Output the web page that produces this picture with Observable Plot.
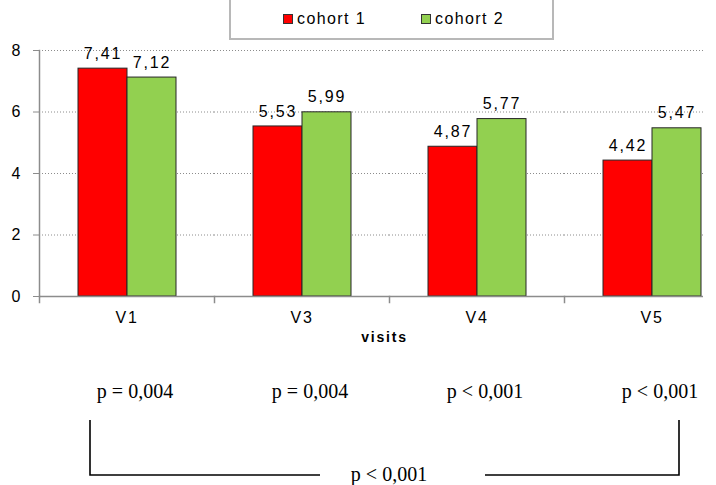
<!DOCTYPE html>
<html>
<head>
<meta charset="utf-8">
<script src="https://cdn.jsdelivr.net/npm/d3@7"></script>
<script src="https://cdn.jsdelivr.net/npm/@observablehq/plot@0.6"></script>
<style>
  body { margin: 0; background: #fff; }
  #wrap { position: relative; width: 716px; height: 485px; overflow: hidden; font-family: "Liberation Sans", Arial, sans-serif; }
  #legend { position: absolute; left: 229px; top: -2px; width: 321px; height: 40px; border: 2px solid #b8b8b8; border-top: none; }
  .item { position: absolute; top: 12px; font-size: 16px; letter-spacing: 1.4px; color: #000; line-height: 18px; }
  .sw { display: inline-block; width: 8px; height: 8px; border: 1px solid #333; margin-right: 4px; vertical-align: 0px; }
  #plot { position: absolute; left: 0; top: 0; width: 703px; height: 485px; overflow: hidden; }
  #plot svg { max-width: none !important; width: 716px !important; height: 485px !important; }
  #ann { position: absolute; left: 0; top: 0; }
  #plot g[aria-description="values"] text, #plot g[aria-description="visit labels"] text { letter-spacing: 1.8px; }
  #plot g[aria-description="visits title"] text { letter-spacing: 1.8px; }
</style>
</head>
<body>
<div id="wrap">
  <div id="plot"></div>
  <div id="legend"></div>
  <svg id="ann" width="716" height="485"></svg>
</div>
<script>
// ---- data ----
const visits = ["V1", "V3", "V4", "V5"];
const cohorts = ["cohort 1", "cohort 2"];
const cohort1 = [7.41, 5.53, 4.87, 4.42];
const cohort2 = [7.12, 5.99, 5.77, 5.47];
const pValues = ["p = 0,004", "p = 0,004", "p < 0,001", "p < 0,001"];
const overallP = "p < 0,001";
const yTicks = [0, 2, 4, 6, 8];
const colors = ["#ff0000", "#92d050"];

const data = visits.flatMap((v, i) => [
  {visit: v, cohort: cohorts[0], value: cohort1[i]},
  {visit: v, cohort: cohorts[1], value: cohort2[i]}
]);
const pData = visits.map((v, i) => ({visit: v, p: pValues[i]}));
const fmt = d => d.toFixed(2).replace(".", ",");

const chart = Plot.plot({
  width: 716,
  height: 485,
  marginTop: 50,
  marginBottom: 189,
  marginLeft: 38,
  marginRight: 14,
  style: {fontFamily: "'Liberation Sans', Arial, sans-serif", fontSize: "16px", color: "#000", background: "transparent", overflow: "visible"},
  fx: {domain: visits, range: [38, 740], padding: 0, axis: null, label: null},
  x: {domain: cohorts, paddingInner: 0, paddingOuter: 0.755, axis: null},
  y: {domain: [0, 8], axis: null},
  color: {domain: cohorts, range: colors},
  marks: [
    Plot.ruleY(yTicks.filter(d => d > 0), {stroke: "#8c8c8c", strokeWidth: 1, strokeDasharray: "1,2"}),
    Plot.barY(data, {fx: "visit", x: "cohort", y: "value", fill: "cohort", stroke: "#262626", strokeWidth: 1}),
    Plot.ruleY([0], {stroke: "#8c8c8c", strokeWidth: 1.5}),
    Plot.frame({anchor: "left", facet: "super", stroke: "#8c8c8c", strokeWidth: 1.5}),
    Plot.frame({anchor: "left", stroke: "#8c8c8c", strokeWidth: 1.5, insetTop: 246, insetBottom: -6}),
    Plot.axisY(yTicks, {anchor: "left", tickSize: 6, tickPadding: 13, stroke: "#8c8c8c", fill: "#000", label: null, tickFormat: d => String(d), fontSize: 16}),
    Plot.text(data, {ariaDescription: "values", fx: "visit", x: "cohort", y: "value", text: d => fmt(d.value), dy: -15, fill: "#000", fontSize: 16}),
    Plot.text(visits, {ariaDescription: "visit labels", fx: d => d, text: d => d, frameAnchor: "bottom", dy: 26, fill: "#000", fontSize: 16}),
    Plot.text(["visits"], {ariaDescription: "visits title", facet: "super", frameAnchor: "bottom", dx: -5, dy: 45, fontWeight: "bold", fontSize: 14, fill: "#000"}),
    Plot.text(pData, {ariaDescription: "p values", fx: "visit", text: "p", frameAnchor: "bottom", dy: 101, dx: 8, fontFamily: "'Liberation Serif', serif", fontSize: 20, fill: "#000"})
  ]
});
document.getElementById("plot").appendChild(chart);

// ---- legend ----
const legend = document.getElementById("legend");
const lefts = [52, 190];
cohorts.forEach((c, i) => {
  const it = document.createElement("div");
  it.className = "item";
  it.style.left = lefts[i] + "px";
  it.innerHTML = `<span class="sw" style="background:${colors[i]}"></span>${c}`;
  legend.appendChild(it);
});

// ---- bracket annotation ----
const ann = d3.select("#ann");
ann.append("path")
  .attr("d", "M90,420V475H320M485,475H679V420")
  .attr("fill", "none").attr("stroke", "#000").attr("stroke-width", 1.6);
ann.append("text")
  .attr("x", 389).attr("y", 481)
  .attr("text-anchor", "middle")
  .attr("font-family", "'Liberation Serif', serif")
  .attr("font-size", 20)
  .text(overallP);
</script>
</body>
</html>
